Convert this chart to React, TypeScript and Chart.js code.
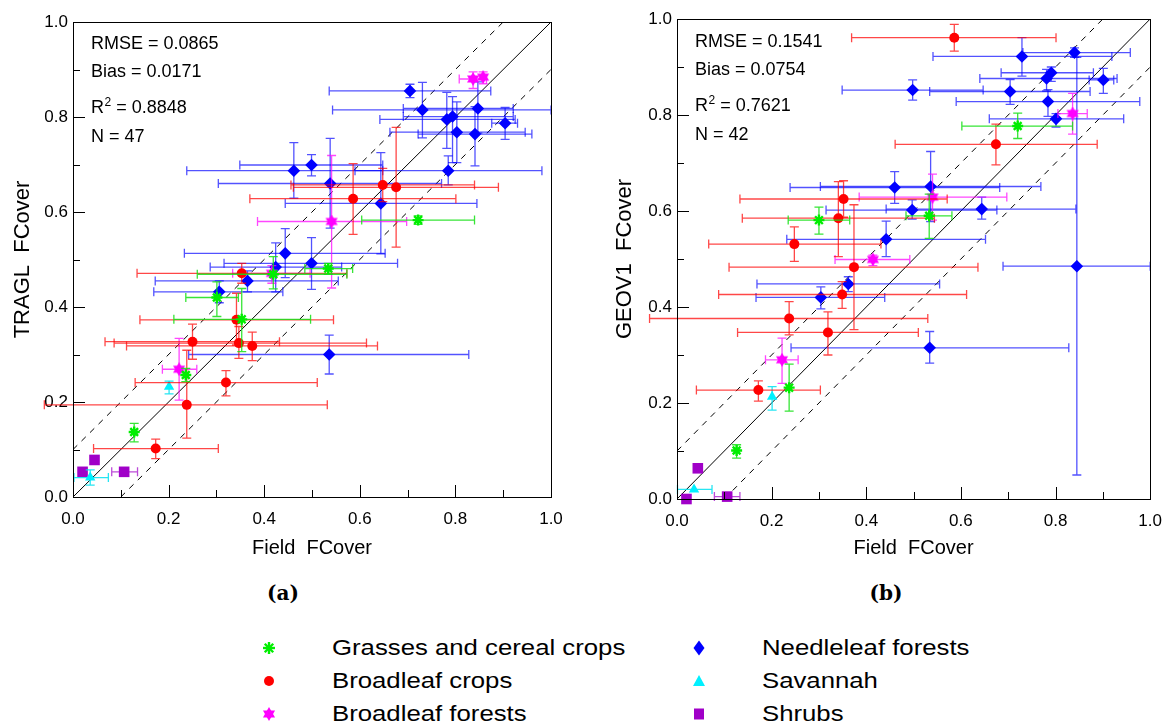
import React, { useEffect, useRef } from "react";
import { Chart, registerables } from "chart.js";
Chart.register(...registerables);

const FONT = "'Liberation Sans', Arial, Helvetica, sans-serif";

// ---------- data ----------
// each row: [fieldX, productY, xLow, xHigh, yLow, yHigh]  (null = no error bar)
type Row = (number | null)[];

const SERIES_NAMES = [
  "Grasses and cereal crops",
  "Broadleaf crops",
  "Broadleaf forests",
  "Needleleaf forests",
  "Savannah",
  "Shrubs",
];

// ---- panel (a): TRAGL ----
const A_GRASS: Row[] = [
  [0.722, 0.583, 0.604, 0.84, 0.592, 0.574],
  [0.419, 0.469, 0.26, 0.573, 0.506, 0.438],
  [0.534, 0.481, 0.485, 0.585, 0.492, 0.469],
  [0.301, 0.42, 0.236, 0.346, 0.453, 0.38],
  [0.353, 0.374, 0.211, 0.497, 0.439, 0.306],
  [0.236, 0.257, null, null, 0.271, 0.243],
  [0.128, 0.137, null, null, 0.155, 0.116],
];
const A_BCROPS: Row[] = [
  [0.648, 0.657, 0.456, 0.84, 0.692, 0.622],
  [0.676, 0.652, 0.461, 0.89, 0.778, 0.526],
  [0.586, 0.628, 0.37, 0.801, 0.702, 0.553],
  [0.353, 0.471, 0.134, 0.573, 0.492, 0.45],
  [0.342, 0.373, 0.14, 0.545, 0.429, 0.32],
  [0.25, 0.327, 0.067, 0.432, 0.364, 0.29],
  [0.347, 0.324, 0.086, 0.614, 0.359, 0.292],
  [0.375, 0.318, 0.112, 0.637, 0.347, 0.287],
  [0.32, 0.241, 0.13, 0.511, 0.266, 0.213],
  [0.238, 0.194, -0.06, 0.532, 0.309, 0.124],
  [0.173, 0.102, 0.043, 0.304, 0.122, 0.081],
];
const A_BFOREST: Row[] = [
  [0.837, 0.88, 0.808, 0.865, 0.895, 0.86],
  [0.858, 0.884, null, null, 0.895, 0.87],
  [0.541, 0.58, 0.386, 0.698, 0.719, 0.44],
  [0.416, 0.471, 0.334, 0.496, 0.487, 0.45],
  [0.222, 0.269, 0.187, 0.259, 0.334, 0.204],
];
const A_NEEDLE: Row[] = [
  [0.705, 0.855, 0.536, 0.874, 0.869, 0.841],
  [0.731, 0.815, 0.543, 1.0, 0.873, 0.756],
  [0.782, 0.795, 0.642, 0.925, 0.852, 0.734],
  [0.794, 0.801, 0.691, 0.921, 0.843, 0.704],
  [0.803, 0.768, 0.663, 0.946, 0.832, 0.704],
  [0.847, 0.818, 0.691, 0.921, 0.874, 0.766],
  [0.841, 0.764, 0.722, 0.96, 0.822, 0.697],
  [0.904, 0.787, 0.876, 0.93, 0.82, 0.753],
  [0.462, 0.687, 0.238, 0.648, 0.746, 0.629],
  [0.499, 0.699, 0.349, 0.648, 0.721, 0.676],
  [0.538, 0.66, 0.304, 0.771, 0.755, 0.566],
  [0.644, 0.618, 0.444, 0.845, 0.725, 0.512],
  [0.785, 0.687, 0.59, 0.981, 0.718, 0.657],
  [0.444, 0.513, 0.233, 0.653, 0.565, 0.462],
  [0.424, 0.484, 0.287, 0.562, 0.535, 0.432],
  [0.499, 0.492, 0.316, 0.679, 0.546, 0.437],
  [0.365, 0.455, 0.172, 0.555, 0.476, 0.432],
  [0.306, 0.432, 0.169, 0.439, 0.455, 0.409],
  [0.536, 0.3, 0.242, 0.828, 0.341, 0.259],
];
const A_SAVANNAH: Row[] = [
  [0.201, 0.232, null, null, 0.244, 0.217],
  [0.036, 0.041, 0.002, 0.074, 0.057, 0.025],
];
const A_SHRUBS: Row[] = [
  [0.045, 0.078, null, null, null, null],
  [0.02, 0.053, null, null, null, null],
  [0.107, 0.053, 0.081, 0.135, null, null],
];

// ---- panel (b): GEOV1 ----
const B_GRASS: Row[] = [
  [0.72, 0.777, 0.602, 0.836, 0.804, 0.751],
  [0.3, 0.581, 0.235, 0.365, 0.608, 0.552],
  [0.533, 0.59, 0.484, 0.581, 0.635, 0.543],
  [0.237, 0.232, null, null, 0.281, 0.183],
  [0.126, 0.101, null, null, 0.113, 0.085],
];
const B_BCROPS: Row[] = [
  [0.586, 0.961, 0.369, 0.801, 0.989, 0.933],
  [0.674, 0.739, 0.461, 0.888, 0.781, 0.696],
  [0.352, 0.625, 0.133, 0.571, 0.663, 0.587],
  [0.341, 0.585, 0.138, 0.544, 0.661, 0.505],
  [0.248, 0.531, 0.067, 0.431, 0.567, 0.495],
  [0.374, 0.483, 0.11, 0.636, 0.613, 0.353],
  [0.349, 0.426, 0.088, 0.612, 0.453, 0.397],
  [0.237, 0.376, -0.058, 0.53, 0.411, 0.342],
  [0.319, 0.347, 0.128, 0.51, 0.39, 0.3],
  [0.172, 0.227, 0.041, 0.303, 0.246, 0.204],
];
const B_BFOREST: Row[] = [
  [0.836, 0.803, 0.805, 0.867, 0.845, 0.76],
  [0.54, 0.629, 0.385, 0.697, 0.677, 0.581],
  [0.414, 0.499, 0.334, 0.492, 0.508, 0.486],
  [0.222, 0.29, 0.187, 0.256, 0.335, 0.241],
];
const B_NEEDLE: Row[] = [
  [0.84, 0.93, 0.731, 0.958, 0.94, 0.92],
  [0.729, 0.922, 0.541, 0.919, 0.961, 0.881],
  [0.791, 0.888, 0.685, 0.88, 0.9, 0.87],
  [0.781, 0.876, 0.64, 0.93, 0.895, 0.85],
  [0.901, 0.873, 0.871, 0.923, 0.897, 0.845],
  [0.498, 0.852, 0.349, 0.647, 0.873, 0.831],
  [0.704, 0.849, 0.534, 0.873, 0.874, 0.822],
  [0.784, 0.828, 0.59, 0.978, 0.853, 0.797],
  [0.801, 0.792, 0.66, 0.944, 0.803, 0.775],
  [0.46, 0.649, 0.239, 0.682, 0.682, 0.616],
  [0.536, 0.651, 0.303, 0.769, 0.724, 0.578],
  [0.497, 0.602, 0.315, 0.676, 0.623, 0.583],
  [0.644, 0.604, 0.442, 0.843, 0.629, 0.583],
  [0.442, 0.541, 0.232, 0.652, 0.579, 0.505],
  [0.362, 0.448, 0.169, 0.555, 0.463, 0.432],
  [0.304, 0.42, 0.167, 0.439, 0.442, 0.396],
  [0.534, 0.315, 0.241, 0.828, 0.349, 0.283],
  [0.845, 0.485, 0.689, 1.0, 0.92, 0.05],
];
const B_SAVANNAH: Row[] = [
  [0.201, 0.213, null, null, 0.234, 0.185],
  [0.036, 0.02, 0.001, 0.074, null, null],
];
const B_SHRUBS: Row[] = [
  [0.044, 0.064, null, null, null, null],
  [0.02, 0.0, null, null, null, null],
  [0.106, 0.005, 0.079, 0.133, null, null],
];

const A_STATS = { rmse: "0.0865", bias: "0.0171", r2: "0.8848", n: "47" };
const B_STATS = { rmse: "0.1541", bias: "0.0754", r2: "0.7621", n: "42" };

const AXIS_MAJOR = [0, 0.2, 0.4, 0.6, 0.8, 1.0];
const AXIS_MINOR = [0.1, 0.3, 0.5, 0.7, 0.9];
const REF_OFFSET = 0.1;

// ---------- styles ----------
const STYLES = [
  { color: "#00ee00", err: "rgba(20,225,20,0.85)", kind: "star", radius: 5.5, bw: 2.4 },
  { color: "#ff0000", err: "rgba(255,0,0,0.72)", kind: "circle", radius: 5, bw: 0 },
  { color: "#ff00ff", err: "rgba(255,0,255,0.72)", kind: "hex", radius: 6.5, bw: 0 },
  { color: "#0000ff", err: "rgba(0,0,255,0.68)", kind: "rectRot", radius: 6.3, bw: 0 },
  { color: "#00f0ff", err: "rgba(0,225,240,0.85)", kind: "triangle", radius: 6, bw: 0 },
  { color: "#a000c8", err: "rgba(160,0,200,0.7)", kind: "rect", radius: 7.5, bw: 0 },
];

function makeHexagram(color: string, size: number) {
  const c = document.createElement("canvas");
  c.width = size;
  c.height = size;
  const g = c.getContext("2d")!;
  const r = size / 2;
  g.fillStyle = color;
  [-Math.PI / 2, Math.PI / 2].forEach((rot) => {
    g.beginPath();
    for (let k = 0; k < 3; k++) {
      const ang = rot + (k * 2 * Math.PI) / 3;
      const px = r + r * Math.cos(ang);
      const py = r + r * Math.sin(ang);
      if (k === 0) g.moveTo(px, py);
      else g.lineTo(px, py);
    }
    g.closePath();
    g.fill();
  });
  return c;
}

const errorBarPlugin = {
  id: "errbars",
  beforeDatasetDraw(chart: any, args: any) {
    const ds = chart.data.datasets[args.index];
    if (!ds.errRows) return;
    const { ctx } = chart;
    const xs = chart.scales.x;
    const ys = chart.scales.y;
    const cap = 4.5;
    ctx.save();
    ctx.strokeStyle = ds.errColor;
    ctx.lineWidth = 1.3;
    ds.errRows.forEach((r: Row) => {
      const px = xs.getPixelForValue(r[0]);
      const py = ys.getPixelForValue(r[1]);
      ctx.beginPath();
      if (r[2] != null && r[3] != null) {
        const a = xs.getPixelForValue(r[2]);
        const b = xs.getPixelForValue(r[3]);
        ctx.moveTo(a, py);
        ctx.lineTo(b, py);
        ctx.moveTo(a, py - cap);
        ctx.lineTo(a, py + cap);
        ctx.moveTo(b, py - cap);
        ctx.lineTo(b, py + cap);
      }
      if (r[4] != null && r[5] != null) {
        const a = ys.getPixelForValue(r[4]);
        const b = ys.getPixelForValue(r[5]);
        ctx.moveTo(px, a);
        ctx.lineTo(px, b);
        ctx.moveTo(px - cap, a);
        ctx.lineTo(px + cap, a);
        ctx.moveTo(px - cap, b);
        ctx.lineTo(px + cap, b);
      }
      ctx.stroke();
    });
    ctx.restore();
  },
};

const framePlugin = {
  id: "frame",
  afterDatasetsDraw(chart: any, _args: any, opts: any) {
    const { ctx, chartArea: a } = chart;
    const xs = chart.scales.x;
    const ys = chart.scales.y;
    ctx.save();
    ctx.strokeStyle = "#000";
    ctx.lineWidth = 1;
    ctx.strokeRect(Math.round(a.left) + 0.5, Math.round(a.top) + 0.5, Math.round(a.right - a.left), Math.round(a.bottom - a.top));
    ctx.beginPath();
    const tick = (v: number, len: number) => {
      const px = Math.round(xs.getPixelForValue(v)) + 0.5;
      ctx.moveTo(px, a.bottom);
      ctx.lineTo(px, a.bottom - len);
      const py = Math.round(ys.getPixelForValue(v)) + 0.5;
      ctx.moveTo(a.left, py);
      ctx.lineTo(a.left + len, py);
    };
    AXIS_MAJOR.forEach((v) => tick(v, 12));
    AXIS_MINOR.forEach((v) => tick(v, 7));
    ctx.stroke();

    // statistics text
    const s = opts.stats;
    const x0 = a.left + 18;
    const base = opts.baselines as number[];
    ctx.fillStyle = "#000";
    ctx.textBaseline = "alphabetic";
    ctx.textAlign = "left";
    ctx.font = `18px ${FONT}`;
    ctx.fillText(`RMSE = ${s.rmse}`, x0, a.top + base[0]);
    ctx.fillText(`Bias = ${s.bias}`, x0, a.top + base[1]);
    ctx.fillText("R", x0, a.top + base[2]);
    const wR = ctx.measureText("R").width;
    ctx.font = `12px ${FONT}`;
    ctx.fillText("2", x0 + wR + 0.5, a.top + base[2] - 7);
    const w2 = ctx.measureText("2").width;
    ctx.font = `18px ${FONT}`;
    ctx.fillText(` = ${s.r2}`, x0 + wR + w2 + 0.5, a.top + base[2]);
    ctx.fillText(`N = ${s.n}`, x0, a.top + base[3]);
    ctx.restore();
  },
};

type PanelProps = {
  width: number;
  height: number;
  left: number;
  series: Row[][];
  stats: any;
  yTitle: string;
  padTop: number;
  padRight: number;
  yAxisWidth: number;
  xAxisHeight: number;
  yTitlePad: number;
  baselines: number[];
};

function Panel(p: PanelProps) {
  const ref = useRef<HTMLCanvasElement | null>(null);
  useEffect(() => {
    if (!ref.current) return;
    const hex = makeHexagram(STYLES[2].color, 14);
    const scatterSets = p.series.map((rows, i) => {
      const st = STYLES[i];
      return {
        label: SERIES_NAMES[i],
        data: rows.map((r) => ({ x: r[0] as number, y: r[1] as number })),
        pointStyle: st.kind === "hex" ? hex : st.kind,
        pointRadius: st.radius,
        backgroundColor: st.color,
        borderColor: st.color,
        borderWidth: st.bw,
        clip: false,
        errRows: rows,
        errColor: st.err,
      } as any;
    });
    const lineBase = {
      showLine: true,
      borderColor: "#000",
      borderWidth: 1,
      pointRadius: 0,
      backgroundColor: "#000",
    };
    const lineSets = [
      { ...lineBase, data: [{ x: 0, y: 0 }, { x: 1, y: 1 }] },
      { ...lineBase, borderDash: [6, 6], data: [{ x: 0, y: REF_OFFSET }, { x: 1 - REF_OFFSET, y: 1 }] },
      { ...lineBase, borderDash: [6, 6], data: [{ x: REF_OFFSET, y: 0 }, { x: 1, y: 1 - REF_OFFSET }] },
    ];
    const tickFont = { size: 17, family: FONT };
    const chart = new Chart(ref.current, {
      type: "scatter",
      data: { datasets: [...scatterSets, ...lineSets] as any },
      options: {
        animation: false,
        responsive: false,
        events: [],
        layout: { padding: { top: p.padTop, right: p.padRight, bottom: 0, left: 0 } },
        plugins: {
          legend: { display: false },
          tooltip: { enabled: false },
          frame: { stats: p.stats, baselines: p.baselines },
        } as any,
        scales: {
          x: {
            type: "linear",
            min: 0,
            max: 1,
            position: "bottom",
            grid: { display: false, drawTicks: false },
            border: { display: false },
            ticks: {
              stepSize: 0.2,
              color: "#000",
              font: tickFont,
              padding: 12,
              maxRotation: 0,
              autoSkip: false,
              callback: (v: any) => Number(v).toFixed(1),
            },
            title: {
              display: true,
              text: "Field  FCover",
              color: "#000",
              font: { size: 20, family: FONT },
              padding: { top: 7, bottom: 0 },
            },
            afterFit: (s: any) => {
              s.height = p.xAxisHeight;
            },
          },
          y: {
            type: "linear",
            min: 0,
            max: 1,
            grid: { display: false, drawTicks: false },
            border: { display: false },
            ticks: {
              stepSize: 0.2,
              color: "#000",
              font: tickFont,
              padding: 5,
              autoSkip: false,
              callback: (v: any) => Number(v).toFixed(1),
            },
            title: {
              display: true,
              text: p.yTitle,
              color: "#000",
              font: { size: 22, family: FONT },
              padding: { top: p.yTitlePad, bottom: 0 },
            },
            afterFit: (s: any) => {
              s.width = p.yAxisWidth;
            },
          },
        },
      } as any,
      plugins: [errorBarPlugin, framePlugin] as any,
    });
    return () => chart.destroy();
  }, []);
  return (
    <canvas
      ref={ref}
      width={p.width}
      height={p.height}
      style={{ position: "absolute", left: p.left, top: 0, width: p.width, height: p.height }}
    />
  );
}

function LegendMarker({ kind, color }: { kind: string; color: string }) {
  const s = 16;
  const c = s / 2;
  let shape: any = null;
  if (kind === "star") {
    const r = 6;
    const d = r * Math.SQRT1_2;
    shape = (
      <g stroke={color} strokeWidth={2.4}>
        <line x1={c - r} y1={c} x2={c + r} y2={c} />
        <line x1={c} y1={c - r} x2={c} y2={c + r} />
        <line x1={c - d} y1={c - d} x2={c + d} y2={c + d} />
        <line x1={c - d} y1={c + d} x2={c + d} y2={c - d} />
      </g>
    );
  } else if (kind === "circle") {
    shape = <ellipse cx={c} cy={c} rx={5} ry={5} fill={color} />;
  } else if (kind === "hex") {
    const r = 7;
    const tri = (rot: number) =>
      [0, 1, 2]
        .map((k) => {
          const a = rot + (k * 2 * Math.PI) / 3;
          return `${c + r * Math.cos(a)},${c + r * Math.sin(a)}`;
        })
        .join(" ");
    shape = (
      <g fill={color}>
        <polygon points={tri(-Math.PI / 2)} />
        <polygon points={tri(Math.PI / 2)} />
      </g>
    );
  } else if (kind === "rectRot") {
    shape = <polygon points={`${c},${c - 7.5} ${c + 5.5},${c} ${c},${c + 7.5} ${c - 5.5},${c}`} fill={color} />;
  } else if (kind === "triangle") {
    shape = <polygon points={`${c},${c - 6} ${c + 6},${c + 5} ${c - 6},${c + 5}`} fill={color} />;
  } else {
    shape = <rect x={c - 5} y={c - 5.5} width={10} height={11} fill={color} />;
  }
  return (
    <svg width={s} height={s} style={{ position: "absolute", left: -c, top: -c, overflow: "visible" }}>
      {shape}
    </svg>
  );
}

const LEGEND_COL_MARKER_X = [269, 699];
const LEGEND_COL_TEXT_X = [332, 762];
const LEGEND_ROW_Y = [648, 681, 714];

function Legend() {
  return (
    <>
      {SERIES_NAMES.map((name, i) => {
        const col = i < 3 ? 0 : 1;
        const row = i % 3;
        const y = LEGEND_ROW_Y[row];
        return (
          <React.Fragment key={name}>
            <div style={{ position: "absolute", left: LEGEND_COL_MARKER_X[col], top: y, width: 0, height: 0 }}>
              <LegendMarker kind={STYLES[i].kind} color={STYLES[i].color} />
            </div>
            <div
              style={{
                position: "absolute",
                left: LEGEND_COL_TEXT_X[col],
                top: y - 10.7,
                fontFamily: FONT,
                fontSize: 22,
                lineHeight: "22px",
                whiteSpace: "nowrap",
                color: "#000",
                transform: "scaleX(1.17)",
                transformOrigin: "left center",
              }}
            >
              {name}
            </div>
          </React.Fragment>
        );
      })}
    </>
  );
}

export default function App() {
  const subLabel = (text: string, cx: number) => (
    <div
      style={{
        position: "absolute",
        left: cx - 50,
        width: 100,
        top: 581,
        textAlign: "center",
        fontFamily: "'DejaVu Serif', 'Liberation Serif', serif",
        fontWeight: "bold",
        fontSize: 20,
        lineHeight: "24px",
        color: "#000",
      }}
    >
      {text}
    </div>
  );
  return (
    <div style={{ position: "absolute", left: 0, top: 0, width: 1174, height: 727, background: "#fff", overflow: "hidden" }}>
      <Panel
        width={600}
        height={560}
        left={0}
        series={[A_GRASS, A_BCROPS, A_BFOREST, A_NEEDLE, A_SAVANNAH, A_SHRUBS]}
        stats={A_STATS}
        yTitle="TRAGL  FCover"
        padTop={22}
        padRight={49}
        yAxisWidth={73}
        xAxisHeight={63}
        yTitlePad={10}
        baselines={[27, 55, 91, 120]}
      />
      <Panel
        width={574}
        height={560}
        left={600}
        series={[B_GRASS, B_BCROPS, B_BFOREST, B_NEEDLE, B_SAVANNAH, B_SHRUBS]}
        stats={B_STATS}
        yTitle="GEOV1  FCover"
        padTop={19}
        padRight={17}
        yAxisWidth={77}
        xAxisHeight={61}
        yTitlePad={12}
        baselines={[28, 56, 92, 121]}
      />
      {subLabel("(a)", 283)}
      {subLabel("(b)", 886)}
      <Legend />
    </div>
  );
}
